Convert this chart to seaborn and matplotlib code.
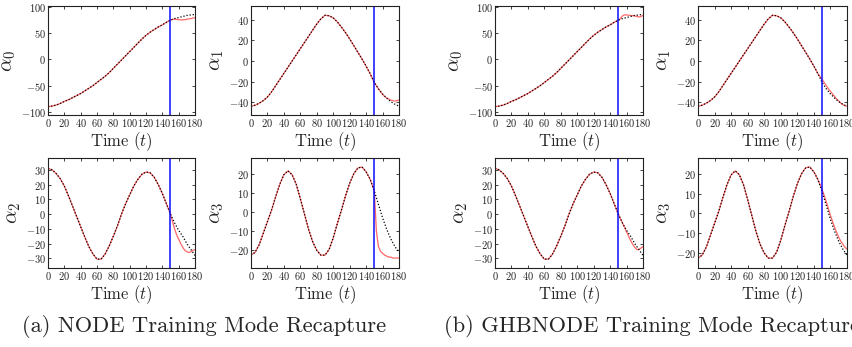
import numpy as np
import pandas as pd
import matplotlib
matplotlib.use("Agg")
import matplotlib.pyplot as plt
import seaborn as sns

# ---------------- data ----------------
t_true = np.arange(0, 181, 5)
a0_true = [-90, -89, -87, -84, -80, -77, -73, -69, -65, -60, -55, -50, -44, -38, -32, -25, -17, -9, -1,
           7, 15, 23, 31, 39, 46, 52, 57, 62, 66, 71, 75, 78, 80, 82, 84, 85, 86]
a1_true = [-44, -43, -41, -38.5, -35, -30, -24, -18, -12, -6, 0, 6, 12, 18, 24, 30, 36, 41, 44.5,
           44, 42, 38, 33, 27.5, 21.5, 15, 8.5, 2, -5, -12.5, -21, -27, -32, -36, -39.5, -42, -44]
a2_true = [31, 30, 27.5, 24, 19, 12.5, 5.5, -1.5, -8.5, -15.5, -22, -27, -30.5, -30.5, -27, -21.5, -15, -8, 0,
           7, 13, 19, 23.5, 27, 28.5, 28, 25, 20, 14, 7, 0, -6, -11, -15, -20, -24, -28]
a3_true = [-22.5, -21, -17, -11, -5, 1, 8, 14.5, 19.5, 21.5, 19.5, 14.5, 7, -1, -9, -15.5, -20, -22.5, -22.5,
           -19.5, -13.5, -6, 1, 8.5, 15, 20, 23, 23.5, 21, 17, 11, 4, -3, -9, -14, -18, -21]

t_pred = np.arange(150, 180.1, 2.5)
node_a0 = [75, 76.5, 77, 76.5, 76, 75.5, 75.5, 76, 76.5, 77.5, 78, 79, 79.5]
node_a1 = [-21, -24, -27, -30, -32.5, -34.5, -36, -37, -38, -38.5, -39, -38.5, -38]
node_a2 = [0, -5, -10, -14, -17, -20, -22.5, -24.5, -25.5, -26, -25.5, -24.5, -24]
node_a3 = [11, -10, -18, -20.5, -21.5, -22.5, -23, -23.5, -23.5, -24, -24, -24, -24]
ghb_a0 = [75, 78, 83, 85, 85, 84.5, 84, 83.5, 83, 82, 81, 82, 84]
ghb_a1 = [-18, -21, -24, -27, -29.5, -32, -34.5, -37, -39, -41, -42.5, -43.5, -44]
ghb_a2 = [0, -3, -6, -9, -12, -15, -18, -20.5, -22.5, -24, -24, -23, -22]
ghb_a3 = [12, 9, 6, 2.5, -1, -4, -7, -9.5, -12, -14, -15.5, -17, -18]

train_end = 150
ylabels = [r"$\alpha_0$", r"$\alpha_1$", r"$\alpha_2$", r"$\alpha_3$"]
captions = ["(a) NODE Training Mode Recapture", "(b) GHBNODE Training Mode Recapture"]
xticks = list(range(0, 181, 20))

# ---------------- style ----------------
sns.set_style("ticks")
plt.rcParams.update({
    "font.family": ["cmr10", "DejaVu Serif"],
    "mathtext.fontset": "cm",
    "axes.formatter.use_mathtext": True,
    "axes.unicode_minus": True,
    "xtick.direction": "in", "ytick.direction": "in",
    "xtick.top": True, "ytick.right": True,
    "xtick.major.size": 2.5, "ytick.major.size": 2.5,
    "xtick.major.width": 0.6, "ytick.major.width": 0.6,
    "xtick.labelsize": 7.5, "ytick.labelsize": 7.5,
    "axes.linewidth": 0.8, "axes.edgecolor": "#222222",
    "axes.labelsize": 12,
})

W, H = 853, 347
fig = plt.figure(figsize=(W / 100, H / 100), dpi=100)


def box(l, r, t, b):
    return [l / W, 1 - b / H, (r - l) / W, (b - t) / H]


boxes = {
    ("a", 0): box(48, 195, 6, 115), ("a", 1): box(251, 399, 6, 115),
    ("a", 2): box(48, 195, 158, 268), ("a", 3): box(251, 399, 158, 268),
    ("b", 0): box(495, 643, 6, 115), ("b", 1): box(698, 847, 6, 115),
    ("b", 2): box(495, 643, 158, 268), ("b", 3): box(698, 847, 158, 268),
}
ylims = {
    ("a", 0): (-106, 102), ("a", 1): (-52.5, 53.5), ("a", 2): (-36.5, 38), ("a", 3): (-29.2, 28.2),
    ("b", 0): (-106, 102), ("b", 1): (-52.5, 53.5), ("b", 2): (-36.5, 38), ("b", 3): (-27.5, 28),
}
yticks = {0: [-100, -50, 0, 50, 100], 1: [-40, -20, 0, 20, 40],
          2: [-30, -20, -10, 0, 10, 20, 30], 3: [-20, -10, 0, 10, 20]}

trues = [a0_true, a1_true, a2_true, a3_true]
preds = {"a": [node_a0, node_a1, node_a2, node_a3], "b": [ghb_a0, ghb_a1, ghb_a2, ghb_a3]}

for panel in ["a", "b"]:
    for k in range(4):
        ax = fig.add_axes(boxes[(panel, k)])
        tt = np.asarray(t_true, float)
        yt = np.asarray(trues[k], float)
        mask = tt < train_end
        tr = np.concatenate([tt[mask], t_pred])
        yr = np.concatenate([yt[mask], np.asarray(preds[panel][k], float)])
        sns.lineplot(x=tr, y=yr, ax=ax, color="red", lw=0.9, alpha=0.6,
                     estimator=None, sort=False)
        sns.lineplot(x=tt, y=yt, ax=ax, color="black", lw=0.9, linestyle=(0, (1, 1.5)),
                     estimator=None, sort=False)
        ax.axvline(train_end, color="blue", lw=1.4, alpha=0.75)
        ax.set_xlim(0, 180)
        ax.set_ylim(*ylims[(panel, k)])
        ax.set_xticks(xticks)
        ax.set_yticks(yticks[k])
        ax.set_xlabel(r"Time $(t)$", fontsize=12, labelpad=1)
        ax.set_ylabel(ylabels[k], fontsize=15, labelpad=2)
        ax.tick_params(pad=1.5, colors="#222222")

fig.text(22 / W, 1 - 326 / H, captions[0], fontsize=16.2, ha="left", va="center")
fig.text(444 / W, 1 - 326 / H, captions[1], fontsize=16.2, ha="left", va="center")

fig.savefig("out.png", dpi=100)
